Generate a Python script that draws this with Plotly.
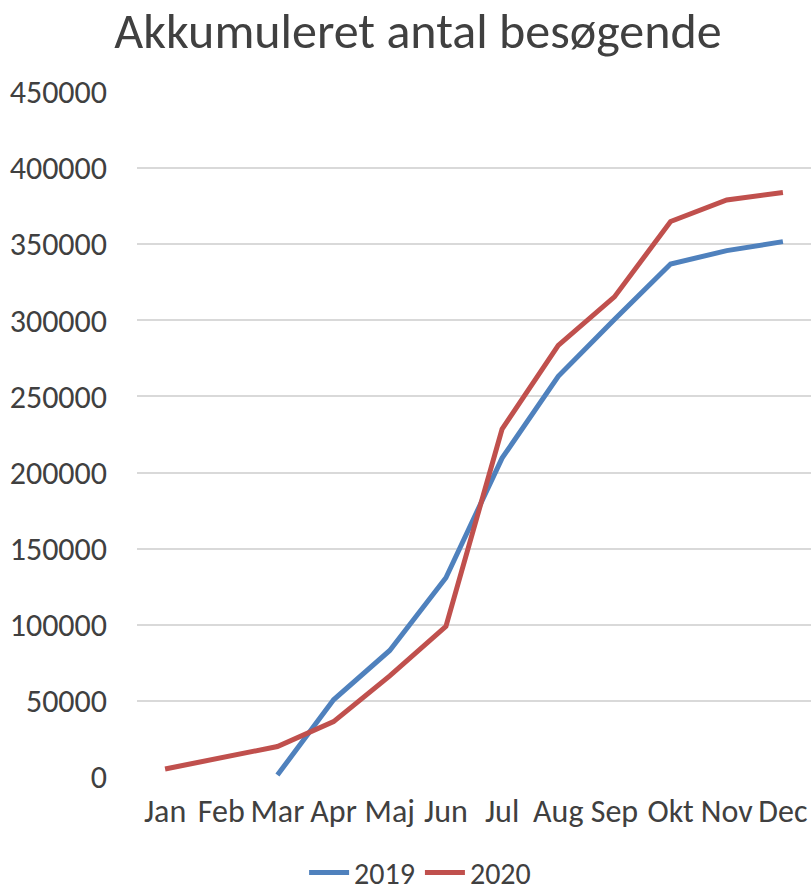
import plotly.graph_objects as go

months = ["Jan", "Feb", "Mar", "Apr", "Maj", "Jun", "Jul", "Aug", "Sep", "Okt", "Nov", "Dec"]
visitors_2019 = [None, None, 1300, 50700, 83100, 130900, 209500, 263200, 300500, 337000, 345800, 351700]
visitors_2020 = [5300, 12500, 20000, 36400, 66400, 98900, 228600, 283500, 315400, 364900, 379100, 384000]
y_ticks = [0, 50000, 100000, 150000, 200000, 250000, 300000, 350000, 400000, 450000]

FONT = "Carlito, Calibri, Lato, sans-serif"
TXT = "#404040"

fig = go.Figure()
fig.add_trace(go.Scatter(x=months, y=visitors_2019, name="2019", mode="lines",
                         line=dict(color="#4F81BD", width=5), connectgaps=False))
fig.add_trace(go.Scatter(x=months, y=visitors_2020, name="2020", mode="lines",
                         line=dict(color="#C0504D", width=5)))

fig.update_layout(
    width=811, height=893,
    margin=dict(l=137, r=0, t=92, b=116, autoexpand=False),
    paper_bgcolor="white", plot_bgcolor="white",
    font=dict(family=FONT, color=TXT, size=32),
    title=dict(text="Akkumuleret antal besøgende", x=0.5154, xanchor="center", xref="container",
               y=0.9664, yanchor="middle", yref="container",
               font=dict(family=FONT, size=50, color=TXT)),
    showlegend=True,
    legend=dict(orientation="h", x=0.518, xanchor="center", xref="container",
                y=0.023, yanchor="middle", yref="container",
                font=dict(family=FONT, size=30, color=TXT), itemwidth=40),
)
fig.update_xaxes(type="category", showgrid=False, showline=False, zeroline=False,
                 ticks="", tickfont=dict(family=FONT, size=32, color=TXT),
                 ticklabelstandoff=12, range=[-0.5, 11.5])
fig.update_yaxes(range=[0, 450000], tickvals=y_ticks, ticktext=[str(v) for v in y_ticks],
                 showgrid=True, gridcolor="#D9D9D9", gridwidth=2, zeroline=False,
                 showline=False, tickfont=dict(family=FONT, size=32, color=TXT),
                 ticklabelstandoff=29)

fig.write_html("out.html", config={"displayModeBar": False},
               post_script="document.body.style.margin='0';document.body.style.overflow='hidden';")
